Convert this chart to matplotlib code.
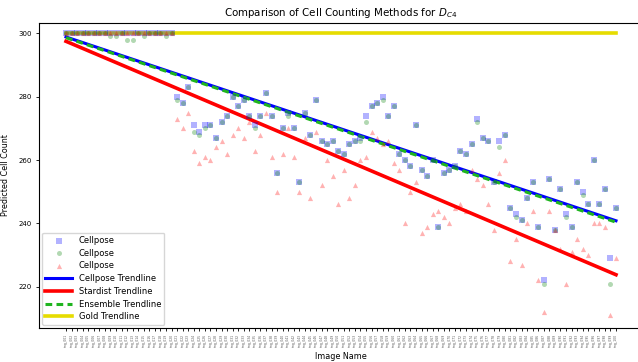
import numpy as np
import matplotlib
matplotlib.use('Agg')
import matplotlib.pyplot as plt

# image names (x tick labels)
image_names = [
    'img_001', 'img_002', 'img_003', 'img_004', 'img_005', 'img_006', 'img_007', 'img_008', 'img_009', 'img_010',
    'img_011', 'img_012', 'img_013', 'img_014', 'img_015', 'img_016', 'img_017', 'img_018', 'img_019', 'img_020',
    'img_021', 'img_022', 'img_023', 'img_024', 'img_025', 'img_026', 'img_027', 'img_028', 'img_029', 'img_030',
    'img_031', 'img_032', 'img_033', 'img_034', 'img_035', 'img_036', 'img_037', 'img_038', 'img_039', 'img_040',
    'img_041', 'img_042', 'img_043', 'img_044', 'img_045', 'img_046', 'img_047', 'img_048', 'img_049', 'img_050',
    'img_051', 'img_052', 'img_053', 'img_054', 'img_055', 'img_056', 'img_057', 'img_058', 'img_059', 'img_060',
    'img_061', 'img_062', 'img_063', 'img_064', 'img_065', 'img_066', 'img_067', 'img_068', 'img_069', 'img_070',
    'img_071', 'img_072', 'img_073', 'img_074', 'img_075', 'img_076', 'img_077', 'img_078', 'img_079', 'img_080',
    'img_081', 'img_082', 'img_083', 'img_084', 'img_085', 'img_086', 'img_087', 'img_088', 'img_089', 'img_090',
    'img_091', 'img_092', 'img_093', 'img_094', 'img_095', 'img_096', 'img_097', 'img_098', 'img_099', 'img_100',
]

cellpose = [
    300, 300, 300, 300, 300, 300, 300, 300, 300, 300,
    300, 300, 300, 300, 300, 300, 300, 300, 300, 300,
    280, 278, 283, 271, 269, 271, 271, 267, 272, 274,
    280, 277, 279, 274, 271, 274, 281, 274, 256, 270,
    275, 270, 253, 275, 268, 279, 266, 265, 266, 263,
    262, 265, 266, 267, 274, 277, 278, 280, 274, 277,
    262, 260, 258, 271, 257, 255, 260, 239, 256, 257,
    258, 263, 262, 265, 273, 267, 266, 253, 266, 268,
    245, 243, 241, 248, 253, 239, 222, 254, 238, 251,
    243, 239, 253, 250, 246, 260, 246, 251, 229, 245,
]

ensemble = [
    300, 300, 300, 300, 300, 300, 300, 300, 299, 299,
    300, 298, 298, 300, 299, 300, 300, 300, 299, 300,
    279, 278, 283, 269, 268, 270, 271, 267, 272, 274,
    280, 277, 279, 274, 270, 274, 281, 274, 256, 270,
    274, 270, 253, 275, 268, 279, 266, 265, 266, 263,
    262, 265, 266, 266, 272, 277, 278, 279, 274, 277,
    262, 260, 258, 271, 257, 255, 260, 239, 256, 257,
    258, 263, 262, 265, 272, 267, 266, 253, 264, 268,
    245, 242, 241, 248, 253, 239, 221, 254, 238, 251,
    242, 239, 253, 249, 246, 260, 246, 251, 221, 245,
]

stardist = [
    300, 300, 300, 300, 300, 300, 300, 300, 300, 300,
    300, 300, 300, 300, 300, 300, 300, 300, 300, 300,
    273, 270, 275, 263, 259, 261, 260, 264, 266, 262,
    268, 270, 267, 272, 263, 268, 275, 261, 250, 262,
    270, 261, 250, 267, 248, 269, 252, 260, 255, 246,
    257, 248, 252, 260, 261, 269, 267, 265, 266, 259,
    257, 240, 250, 253, 237, 239, 243, 244, 242, 240,
    245, 246, 244, 257, 254, 252, 246, 238, 256, 260,
    228, 235, 227, 240, 244, 222, 212, 244, 238, 232,
    221, 231, 235, 232, 230, 240, 240, 239, 211, 229,
]

gold = [
    300, 300, 300, 300, 300, 300, 300, 300, 300, 300,
    300, 300, 300, 300, 300, 300, 300, 300, 300, 300,
    300, 300, 300, 300, 300, 300, 300, 300, 300, 300,
    300, 300, 300, 300, 300, 300, 300, 300, 300, 300,
    300, 300, 300, 300, 300, 300, 300, 300, 300, 300,
    300, 300, 300, 300, 300, 300, 300, 300, 300, 300,
    300, 300, 300, 300, 300, 300, 300, 300, 300, 300,
    300, 300, 300, 300, 300, 300, 300, 300, 300, 300,
    300, 300, 300, 300, 300, 300, 300, 300, 300, 300,
    300, 300, 300, 300, 300, 300, 300, 300, 300, 300,
]


def trend(y):
    x = np.arange(len(y))
    m, b = np.polyfit(x, y, 1)
    return m * x + b


fig = plt.figure(figsize=(6.38, 3.62), dpi=100)
ax = fig.add_axes([38.5 / 638, 1 - 328 / 362, 605 / 638, 305.5 / 362])

x = np.arange(len(image_names))

ax.plot(x, trend(cellpose), color='blue', lw=2.2, label='Cellpose Trendline')
ax.plot(x, trend(stardist), color='red', lw=2.6, label='Stardist Trendline')
ax.plot(x, trend(ensemble), color='#1fb41f', lw=2.2, ls=(0, (2.2, 1.4)), label='Ensemble Trendline')
ax.plot(x, trend(gold), color='#e6dc00', lw=2.6, label='Gold Trendline')

# all three legend entries say "Cellpose" in the source figure
ax.scatter(x, cellpose, marker='s', s=13, color='blue', alpha=0.3, lw=0, label='Cellpose', zorder=3)
ax.scatter(x, ensemble, marker='o', s=13, color='green', alpha=0.3, lw=0, label='Cellpose', zorder=3)
ax.scatter(x, stardist, marker='^', s=14, color='red', alpha=0.3, lw=0, label='Cellpose', zorder=3)

ax.set_xticks(x)
ax.set_xticklabels(image_names, rotation=90, fontsize=2.2, color='#555555')
ax.tick_params(axis='x', length=2.5, width=0.6, pad=1.5)
ax.tick_params(axis='y', labelsize=5, length=2.5, width=0.6, pad=2)
ax.set_ylim(207, 303.4)
ax.set_yticks([220, 240, 260, 280, 300])

ax.set_xlabel('Image Name', fontsize=5.8, labelpad=4)
ax.set_ylabel('Predicted Cell Count', fontsize=5.8, labelpad=6)
ax.set_title('Comparison of Cell Counting Methods for $D_{C4}$', fontsize=7.4, pad=5)

handles, labels = ax.get_legend_handles_labels()
order = [4, 5, 6, 0, 1, 2, 3]
ax.legend([handles[i] for i in order], [labels[i] for i in order], loc='lower left',
          fontsize=6, handlelength=3.2, markerscale=1.0, borderaxespad=0.4, labelspacing=0.45)

fig.savefig('out.png', dpi=100)
